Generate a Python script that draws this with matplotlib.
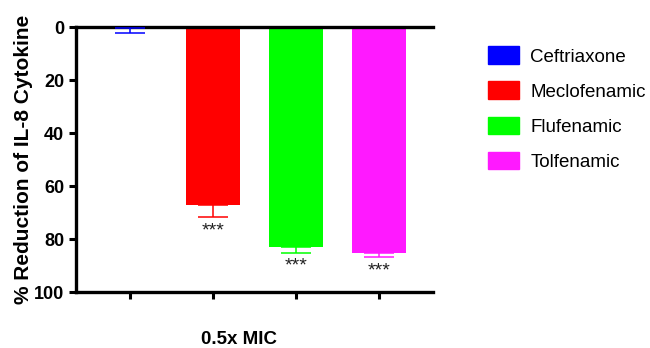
import numpy as np
import matplotlib
matplotlib.use("Agg")
import matplotlib.pyplot as plt
from matplotlib.patches import Patch

plt.rcParams['font.family'] = ['Liberation Sans', 'DejaVu Sans']

drugs = ['Ceftriaxone', 'Meclofenamic', 'Flufenamic', 'Tolfenamic']
colors = ['#0000ff', '#ff0000', '#00ff00', '#ff19ff']
reduction = [0.4, 67.0, 82.9, 85.3]
err = [1.9, 4.6, 2.1, 1.5]
stars = ['', '***', '***', '***']

fig = plt.figure(figsize=(6.5, 3.48), dpi=100)
ax = fig.add_axes([0.117, 0.160, 0.549, 0.762])

x = np.arange(len(drugs))
for i in range(len(drugs)):
    ax.bar(x[i], reduction[i], width=0.66, color=colors[i], zorder=2)
    ax.errorbar(x[i], reduction[i], yerr=[[0], [err[i]]], color=colors[i],
                capsize=10.5, elinewidth=1.1, capthick=1.1, fmt='none', zorder=3)
    if stars[i]:
        ax.text(x[i], reduction[i] + err[i] + 2.0, stars[i], ha='center', va='top',
                fontsize=14, color='#222222')

ax.set_xlim(-0.65, 3.65)
ax.set_ylim(100, 0)
ax.set_yticks([0, 20, 40, 60, 80, 100])
ax.set_xticks(x)
ax.set_xticklabels([])
ax.set_xlabel('0.5x MIC', fontsize=13.5, fontweight='bold')
ax.xaxis.set_label_coords(0.457, -0.145)
ax.set_ylabel('% Reduction of IL-8 Cytokine', fontsize=15, fontweight='bold', labelpad=1)
for lbl in ax.get_yticklabels():
    lbl.set_fontweight('bold')
ax.tick_params(axis='both', labelsize=13, width=2.2, length=5, color='black')
ax.tick_params(axis='x', pad=2)
for side in ['left', 'bottom', 'top']:
    ax.spines[side].set_linewidth(2.4)
ax.spines['right'].set_visible(False)

handles = [Patch(facecolor=c, edgecolor=c) for c in colors]
fig.legend(handles, drugs, loc='upper left', bbox_to_anchor=(0.725, 0.915),
           frameon=False, fontsize=13.5, handlelength=1.65, handleheight=1.05,
           labelspacing=0.85, handletextpad=0.6)

fig.savefig('out.png', dpi=100, facecolor='white')
